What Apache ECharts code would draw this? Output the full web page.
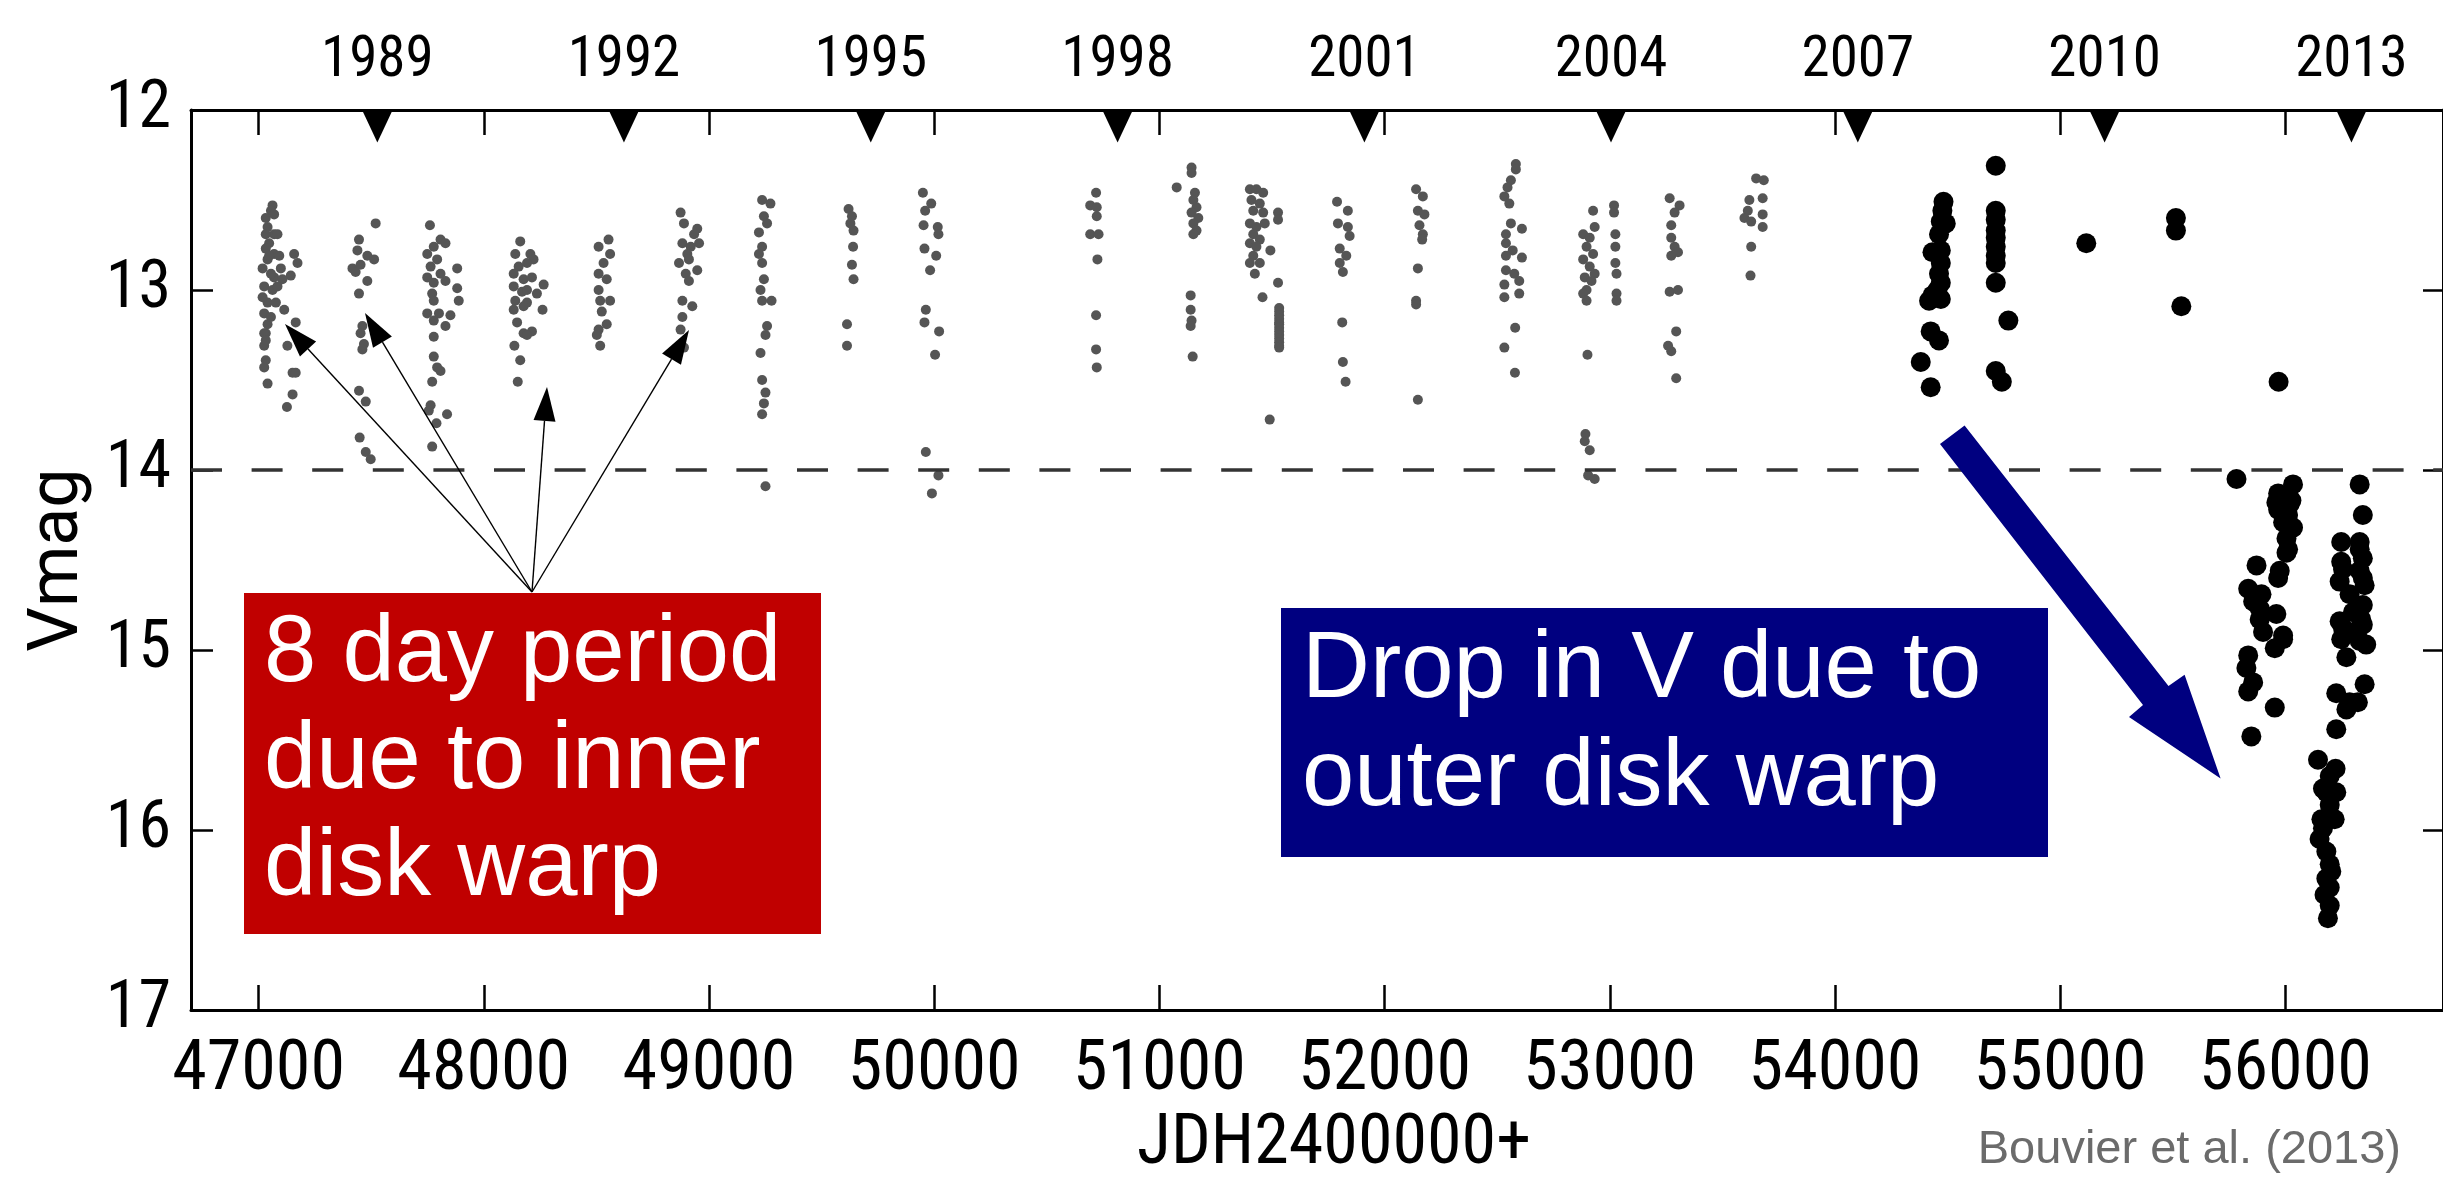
<!DOCTYPE html>
<html>
<head>
<meta charset="utf-8">
<script src="https://cdn.jsdelivr.net/npm/echarts@6/dist/echarts.min.js"></script>
<style>
html,body{margin:0;padding:0;background:#ffffff;}
#chart{width:2443px;height:1198px;}
</style>
</head>
<body>
<div id="chart"></div>
<script>
// ---------------- data ----------------
const xTicks = [47000, 48000, 49000, 50000, 51000, 52000, 53000, 54000, 55000, 56000];
const yTicks = [12, 13, 14, 15, 16, 17];
const yearLabels = ['1989', '1992', '1995', '1998', '2001', '2004', '2007', '2010', '2013'];
const yearJD = [47527.5, 48622.5, 49718.5, 50814.5, 51910.5, 53005.5, 54101.5, 55197.5, 56293.5];
const thresholdV = 14;

// older photometry (grey) [JD-2400000, V]
const grayObs = [
  [47062,12.53],[47055,12.56],[47032,12.60],[47069,12.58],[47040,12.65],[47069,12.69],[47032,12.69],[47084,12.69],
  [47047,12.74],[47032,12.77],[47069,12.80],[47040,12.83],[47092,12.81],[47158,12.80],[47173,12.85],[47099,12.88],
  [47143,12.92],[47069,12.93],[47106,12.94],[47025,12.98],[47062,13.00],[47040,13.07],[47077,13.07],[47114,13.11],
  [47025,13.13],[47040,13.19],[47165,13.18],[47032,13.24],[47025,13.31],[47128,13.31],[47032,13.39],[47025,13.43],
  [47151,13.46],[47165,13.46],[47040,13.52],[47151,13.58],[47126,13.65],[47047,12.81],[47018,12.88],[47055,12.91],
  [47084,12.98],[47018,13.04],[47055,13.15],[47025,13.24],[47032,13.28],
  [47520,12.63],[47446,12.72],[47439,12.78],[47483,12.81],[47513,12.83],[47417,12.88],[47453,12.86],[47431,12.90],
  [47483,12.95],[47446,13.02],[47461,13.20],[47453,13.24],[47468,13.30],[47461,13.33],[47446,13.56],[47476,13.62],
  [47449,13.82],[47476,13.90],[47498,13.94],
  [47761,12.64],[47808,12.72],[47830,12.74],[47778,12.76],[47749,12.80],[47793,12.83],[47764,12.87],[47808,12.91],
  [47882,12.88],[47749,12.93],[47778,12.96],[47830,12.95],[47771,13.02],[47882,12.99],[47889,13.06],[47778,13.06],
  [47749,13.13],[47801,13.13],[47852,13.14],[47778,13.17],[47830,13.20],[47778,13.26],[47778,13.37],[47793,13.43],
  [47808,13.45],[47771,13.51],[47764,13.64],[47756,13.67],[47837,13.69],[47790,13.74],[47771,13.87],
  [48162,12.73],[48140,12.80],[48207,12.80],[48221,12.83],[48155,12.87],[48192,12.85],[48133,12.91],[48177,12.94],
  [48214,12.93],[48266,12.97],[48133,12.98],[48170,13.01],[48192,13.00],[48236,13.02],[48140,13.06],[48192,13.07],
  [48133,13.11],[48177,13.09],[48261,13.11],[48148,13.18],[48177,13.24],[48214,13.23],[48192,13.25],[48136,13.31],
  [48162,13.39],[48151,13.51],
  [48554,12.72],[48510,12.76],[48561,12.80],[48532,12.85],[48510,12.91],[48546,12.94],[48510,13.00],[48561,13.06],
  [48517,13.06],[48524,13.12],[48546,13.19],[48510,13.22],[48502,13.25],[48517,13.31],
  [48874,12.57],[48889,12.63],[48948,12.66],[48934,12.69],[48882,12.74],[48919,12.76],[48956,12.74],[48904,12.80],
  [48867,12.85],[48911,12.83],[48948,12.89],[48897,12.91],[48911,12.95],[48882,13.06],[48926,13.09],[48882,13.15],
  [48874,13.22],[48889,13.32],
  [49236,12.50],[49273,12.52],[49244,12.59],[49258,12.63],[49222,12.68],[49236,12.76],[49222,12.80],[49236,12.85],
  [49244,12.94],[49229,13.00],[49236,13.06],[49278,13.06],[49258,13.20],[49251,13.25],[49229,13.35],[49236,13.50],
  [49251,13.57],[49244,13.63],[49236,13.69],[49251,14.09],
  [49620,12.55],[49635,12.59],[49628,12.63],[49642,12.67],[49640,12.76],[49635,12.86],[49642,12.94],[49613,13.19],
  [49613,13.31],
  [49950,12.46],[49987,12.52],[49960,12.56],[49953,12.64],[50016,12.65],[50019,12.69],[49957,12.77],[50009,12.81],
  [49982,12.89],[49963,13.11],[49957,13.18],[50022,13.23],[50004,13.36],[49963,13.90],[50019,14.03],[49990,14.13],
  [50719,12.46],[50693,12.53],[50722,12.54],[50722,12.59],[50693,12.69],[50730,12.69],[50725,12.83],[50719,13.14],
  [50719,13.33],[50722,13.43],
  [51143,12.32],[51143,12.35],[51077,12.43],[51158,12.46],[51151,12.50],[51165,12.54],[51143,12.57],[51173,12.60],
  [51151,12.63],[51165,12.67],[51151,12.69],[51139,13.03],[51139,13.11],[51143,13.17],[51139,13.20],[51148,13.37],
  [51402,12.44],[51431,12.44],[51461,12.46],[51409,12.50],[51446,12.52],[51417,12.56],[51461,12.57],[51402,12.63],
  [51431,12.65],[51468,12.63],[51417,12.69],[51446,12.72],[51402,12.74],[51431,12.76],[51417,12.81],[51446,12.85],
  [51402,12.85],[51424,12.91],[51527,12.57],[51527,12.61],[51493,12.78],[51527,12.96],[51458,13.04],[51532,13.10],
  [51532,13.12],[51532,13.14],[51532,13.16],[51532,13.18],[51532,13.19],[51532,13.21],[51532,13.23],[51532,13.25],
  [51532,13.27],[51532,13.29],[51532,13.31],[51532,13.32],[51490,13.72],
  [51789,12.51],[51837,12.56],[51793,12.63],[51837,12.65],[51845,12.70],[51801,12.77],[51830,12.81],[51801,12.85],
  [51815,12.90],[51812,13.18],[51815,13.40],[51827,13.51],
  [52140,12.44],[52170,12.48],[52148,12.56],[52177,12.58],[52155,12.64],[52170,12.69],[52167,12.72],[52148,12.88],
  [52140,13.06],[52140,13.08],[52148,13.61],
  [52583,12.30],[52583,12.33],[52561,12.39],[52546,12.43],[52532,12.48],[52554,12.52],[52561,12.63],[52539,12.69],
  [52610,12.66],[52539,12.74],[52569,12.78],[52539,12.81],[52610,12.82],[52539,12.89],[52576,12.91],[52598,12.95],
  [52532,12.97],[52598,13.02],[52532,13.04],[52580,13.21],[52532,13.32],[52579,13.46],
  [52926,12.56],[52933,12.65],[52882,12.69],[52911,12.71],[52897,12.76],[52926,12.80],[52882,12.83],[52911,12.87],
  [52933,12.91],[52889,12.93],[52919,12.95],[52897,13.00],[52882,13.02],[52897,13.06],[52901,13.36],[52892,13.80],
  [52889,13.84],[52911,13.89],[52904,14.03],[52933,14.05],
  [53019,12.53],[53019,12.57],[53025,12.69],[53025,12.76],[53025,12.85],[53030,12.91],[53030,13.02],[53030,13.06],
  [53266,12.49],[53310,12.53],[53288,12.57],[53273,12.64],[53273,12.71],[53288,12.76],[53303,12.79],[53273,12.81],
  [53266,13.01],[53303,13.00],[53295,13.23],[53259,13.31],[53273,13.34],[53295,13.49],
  [53650,12.38],[53684,12.39],[53679,12.49],[53620,12.50],[53613,12.56],[53679,12.58],[53598,12.60],[53628,12.62],
  [53679,12.65],[53628,12.76],[53625,12.92]
];

// recent photometry (black) [JD-2400000, V]
const blackObs = [
  [54482,12.51],[54477,12.56],[54470,12.62],[54492,12.63],[54462,12.69],[54433,12.79],[54470,12.78],[54470,12.85],
  [54462,12.91],[54470,12.96],[54455,13.00],[54433,13.03],[54470,13.05],[54418,13.06],[54425,13.23],[54462,13.28],
  [54381,13.40],[54425,13.54],
  [54714,12.31],[54714,12.56],[54714,12.61],[54714,12.67],[54714,12.71],[54714,12.76],[54714,12.81],[54714,12.85],
  [54714,12.96],[54770,13.17],[54714,13.45],[54741,13.51],
  [55116,12.74],
  [55514,12.60],[55514,12.67],[55538,13.09],
  [55970,13.51],
  [55783,14.05],[56034,14.08],[55968,14.13],[56012,14.14],[55960,14.18],[56019,14.19],[55968,14.22],[56012,14.25],
  [56034,14.32],[56005,14.38],[56012,14.44],[56005,14.46],[55872,14.53],[55975,14.56],[55968,14.60],[55835,14.66],
  [55894,14.69],[55857,14.73],[55886,14.77],[55960,14.80],[55886,14.83],[55901,14.90],[55990,14.94],[55953,14.99],
  [55990,14.92],[55835,15.03],[55827,15.10],[55857,15.18],[55835,15.23],[55953,15.32],[55849,15.48],[55990,14.29],
  [56027,14.17],
  [56330,14.08],[56344,14.25],[56248,14.40],[56330,14.40],[56248,14.51],[56344,14.49],[56241,14.62],[56330,14.56],
  [56352,14.64],[56285,14.69],[56344,14.75],[56241,14.84],[56285,14.90],[56344,14.86],[56248,14.94],[56330,14.95],
  [56359,14.97],[56271,15.04],[56352,15.19],[56226,15.24],[56285,15.29],[56322,15.29],[56271,15.33],[56226,15.44],
  [56145,15.61],[56223,15.66],[56167,15.77],[56226,15.79],[56197,15.86],[56219,15.94],[56167,15.99],[56152,16.05],
  [56182,16.12],[56197,16.19],[56182,16.27],[56197,16.32],[56174,16.36],[56197,16.42],[56189,16.49],[56330,14.44],
  [56344,14.60],[56300,14.79],[56256,14.88],[56337,14.83],[56256,14.55],[56182,15.79],[56197,15.70],[56160,15.94],
  [56204,16.23]
];

// ---------------- styling ----------------
const AX_FONT = "Roboto,'Liberation Sans',sans-serif";
const AX_W = 'normal condensed';   // condensed face, close to the narrow Helvetica of the original
const TXT_FONT = "'Liberation Sans',Arial,sans-serif";

const chart = echarts.init(document.getElementById('chart'), null, {renderer: 'canvas'});

// annotation geometry (pixels)
const arrowOrigin = [532, 592];
const arrowTips = [[285, 324], [365, 313], [547, 387], [689, 330]];
const thinArrows = [];
arrowTips.forEach(function (t) {
  const dx = t[0] - arrowOrigin[0], dy = t[1] - arrowOrigin[1];
  const L = Math.hypot(dx, dy), ux = dx / L, uy = dy / L;
  const bx = t[0] - ux * 34, by = t[1] - uy * 34;
  const nx = -uy, ny = ux;
  thinArrows.push({type: 'line', z: 101, silent: true,
    shape: {x1: arrowOrigin[0], y1: arrowOrigin[1], x2: bx, y2: by},
    style: {stroke: '#000', lineWidth: 1.4}});
  thinArrows.push({type: 'polygon', z: 101, silent: true,
    shape: {points: [[t[0], t[1]], [bx + nx * 11, by + ny * 11], [bx - nx * 11, by - ny * 11]]},
    style: {fill: '#000'}});
});

const textEl = function (x, y, txt, size, color, align) {
  return {type: 'text', x: x, y: y, z: 102, silent: true,
    style: {text: txt, fontSize: size, fontFamily: TXT_FONT, fill: color,
      align: align || 'left', verticalAlign: 'middle'}};
};

const option = {
  animation: false,
  backgroundColor: '#ffffff',
  grid: {left: 191, right: -4, top: 110, bottom: 188, containLabel: false},
  xAxis: [{
    type: 'value', position: 'bottom', min: 46700, max: 56700,
    axisLine: {show: true, onZero: false, lineStyle: {color: '#000', width: 3}},
    axisTick: {show: true, inside: true, length: 25, customValues: xTicks, lineStyle: {color: '#000', width: 2.5}},
    axisLabel: {show: true, customValues: xTicks, margin: 26, fontSize: 70, fontWeight: AX_W, fontFamily: AX_FONT, color: '#000',
      formatter: function (v) { return String(v); }},
    splitLine: {show: false},
    name: 'JDH2400000+', nameLocation: 'middle', nameGap: 100,
    nameTextStyle: {fontSize: 70, fontWeight: AX_W, fontFamily: AX_FONT, color: '#000', padding: [0, 0, 0, 34]}
  }, {
    type: 'value', position: 'top', min: 46700, max: 56700,
    axisLine: {show: true, onZero: false, lineStyle: {color: '#000', width: 3}},
    axisTick: {show: true, inside: true, length: 25, customValues: xTicks, lineStyle: {color: '#000', width: 2.5}},
    axisLabel: {show: false},
    splitLine: {show: false}
  }],
  yAxis: [{
    type: 'value', position: 'left', inverse: true, min: 12, max: 17, interval: 1,
    axisLine: {show: true, onZero: false, lineStyle: {color: '#000', width: 3}},
    axisTick: {show: true, inside: true, length: 22, lineStyle: {color: '#000', width: 2.5}},
    axisLabel: {show: true, margin: 20, fontSize: 66, fontWeight: AX_W, fontFamily: AX_FONT, color: '#000',
      formatter: function (v) { return yTicks.indexOf(v) >= 0 ? String(v) : ''; }},
    splitLine: {show: false},
    name: 'Vmag', nameLocation: 'middle', nameGap: 93, nameRotate: 90,
    nameTextStyle: {fontSize: 70, fontFamily: AX_FONT, color: '#000'}
  }, {
    type: 'value', position: 'right', inverse: true, min: 12, max: 17, interval: 1,
    axisLine: {show: true, onZero: false, lineStyle: {color: '#000', width: 3}},
    axisTick: {show: true, inside: true, length: 20, lineStyle: {color: '#000', width: 2.5}},
    axisLabel: {show: false},
    splitLine: {show: false}
  }],
  series: [{
    name: 'older', type: 'scatter', xAxisIndex: 0, yAxisIndex: 0, z: 2,
    symbol: 'circle', symbolSize: 10, silent: true,
    itemStyle: {color: '#555555', opacity: 1},
    data: grayObs,
    markLine: {
      silent: true, symbol: ['none', 'none'], label: {show: false},
      lineStyle: {type: [31, 29.6], color: '#333333', width: 3.5, opacity: 1},
      data: [{yAxis: thresholdV}]
    }
  }, {
    name: 'recent', type: 'scatter', xAxisIndex: 0, yAxisIndex: 0, z: 3,
    symbol: 'circle', symbolSize: 20, silent: true,
    itemStyle: {color: '#000000', opacity: 1},
    data: blackObs
  }, {
    name: 'years', type: 'scatter', xAxisIndex: 0, yAxisIndex: 0, z: 4, clip: false, silent: true,
    symbol: 'path://M0 0L10 0L5 10Z', symbolKeepAspect: false, symbolSize: [31, 33], symbolOffset: [0, 16],
    itemStyle: {color: '#000000', opacity: 1},
    label: {show: true, position: 'top', distance: 19, fontSize: 57, fontWeight: AX_W, fontFamily: AX_FONT, color: '#000',
      formatter: function (p) { return yearLabels[p.dataIndex]; }},
    data: yearJD.map(function (j) { return [j, 12]; })
  }],
  graphic: {elements: [
    {type: 'rect', z: 100, silent: true, shape: {x: 244, y: 593, width: 577, height: 341}, style: {fill: '#C00000'}},
    textEl(264, 655, '8 day period', 94, '#ffffff'),
    textEl(264, 762, 'due to inner', 94, '#ffffff'),
    textEl(264, 869, 'disk warp', 94, '#ffffff'),
    {type: 'rect', z: 100, silent: true, shape: {x: 1281, y: 608, width: 767, height: 249}, style: {fill: '#000080'}},
    textEl(1302, 671, 'Drop in V due to', 94, '#ffffff'),
    textEl(1302, 779, 'outer disk warp', 94, '#ffffff'),
    {type: 'polygon', z: 100, silent: true,
      shape: {points: [[1940, 444], [1964.6, 425.4], [2168.5, 686], [2184.6, 674.7], [2220.6, 778.5], [2129, 717], [2143, 705]]},
      style: {fill: '#000080'}},
    textEl(2401, 1150, 'Bouvier et al. (2013)', 47, '#6b6b6b', 'right')
  ].concat(thinArrows)}
};

chart.setOption(option);
</script>
</body>
</html>
